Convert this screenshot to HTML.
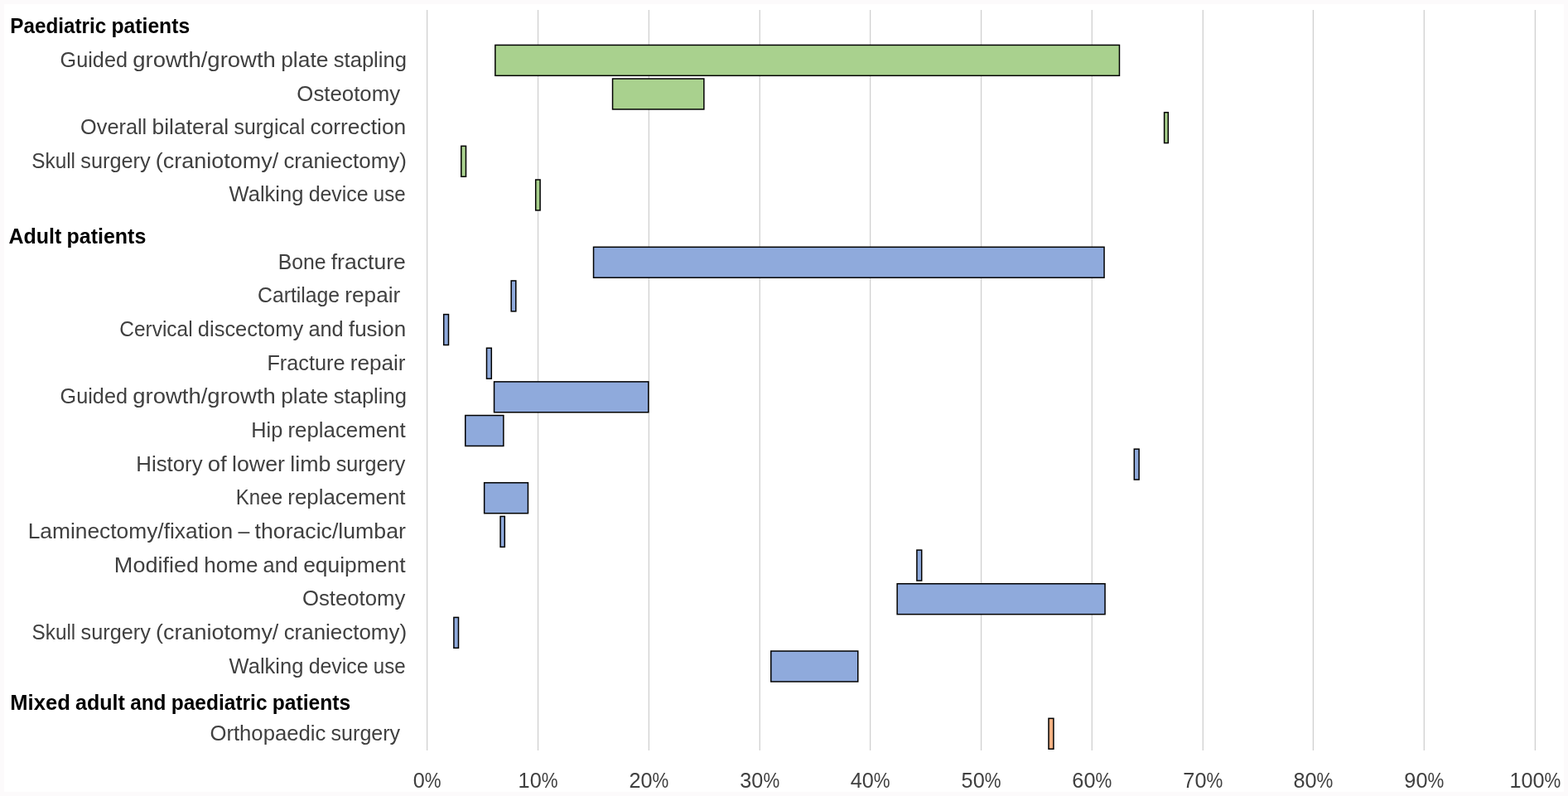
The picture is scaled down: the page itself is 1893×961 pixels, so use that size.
<!DOCTYPE html><html><head><meta charset="utf-8"><title>Chart</title><style>html,body{margin:0;padding:0;background:#fff;}svg{display:block;}</style></head><body>
<svg width="1893" height="961" viewBox="0 0 1893 961">
<rect x="0" y="0" width="1893" height="961" fill="#fcfafb"/>
<rect x="4.9" y="4.9" width="1882.9" height="950.8" fill="#ffffff"/>
<g stroke="#d0d0d0" stroke-width="1.3">
<line x1="515.60" y1="11.9" x2="515.60" y2="906.1"/>
<line x1="649.55" y1="11.9" x2="649.55" y2="906.1"/>
<line x1="783.40" y1="11.9" x2="783.40" y2="906.1"/>
<line x1="917.25" y1="11.9" x2="917.25" y2="906.1"/>
<line x1="1050.60" y1="11.9" x2="1050.60" y2="906.1"/>
<line x1="1184.55" y1="11.9" x2="1184.55" y2="906.1"/>
<line x1="1318.30" y1="11.9" x2="1318.30" y2="906.1"/>
<line x1="1452.30" y1="11.9" x2="1452.30" y2="906.1"/>
<line x1="1585.40" y1="11.9" x2="1585.40" y2="906.1"/>
<line x1="1719.30" y1="11.9" x2="1719.30" y2="906.1"/>
<line x1="1853.40" y1="11.9" x2="1853.40" y2="906.1"/>
</g>
<g stroke="#000" stroke-width="1.5">
<rect x="597.85" y="54.42" width="753.60" height="36.90" fill="#a9d18e"/>
<rect x="739.55" y="95.06" width="110.30" height="36.90" fill="#a9d18e"/>
<rect x="1405.60" y="135.71" width="4.70" height="36.90" fill="#a9d18e"/>
<rect x="556.80" y="176.35" width="5.70" height="36.90" fill="#a9d18e"/>
<rect x="646.70" y="217.00" width="5.40" height="36.90" fill="#a9d18e"/>
<rect x="716.55" y="298.29" width="616.50" height="36.90" fill="#8faadc"/>
<rect x="617.20" y="338.94" width="5.60" height="36.90" fill="#8faadc"/>
<rect x="535.70" y="379.58" width="5.80" height="36.90" fill="#8faadc"/>
<rect x="587.50" y="420.23" width="5.80" height="36.90" fill="#8faadc"/>
<rect x="596.55" y="460.87" width="186.30" height="36.90" fill="#8faadc"/>
<rect x="561.75" y="501.52" width="46.10" height="36.90" fill="#8faadc"/>
<rect x="1369.30" y="542.16" width="5.80" height="36.90" fill="#8faadc"/>
<rect x="584.65" y="582.81" width="52.80" height="36.90" fill="#8faadc"/>
<rect x="604.10" y="623.45" width="5.20" height="36.90" fill="#8faadc"/>
<rect x="1106.90" y="664.10" width="5.80" height="36.90" fill="#8faadc"/>
<rect x="1083.15" y="704.75" width="250.90" height="36.90" fill="#8faadc"/>
<rect x="547.90" y="745.39" width="5.60" height="36.90" fill="#8faadc"/>
<rect x="930.75" y="786.04" width="105.00" height="36.90" fill="#8faadc"/>
<rect x="1266.00" y="867.33" width="5.90" height="36.90" fill="#f4b183"/>
</g>
<g font-family="'Liberation Sans', Arial, sans-serif" font-size="25.0" fill="#404040">
<text y="39.50" font-weight="bold" fill="#000000"><tspan x="12.28" textLength="115.91" lengthAdjust="spacingAndGlyphs">Paediatric</tspan> <tspan x="134.47" textLength="94.70" lengthAdjust="spacingAndGlyphs">patients</tspan></text>
<text y="80.90"><tspan x="72.61" textLength="81.33" lengthAdjust="spacingAndGlyphs">Guided</tspan> <tspan x="160.21" textLength="172.69" lengthAdjust="spacingAndGlyphs">growth/growth</tspan> <tspan x="339.17" textLength="57.28" lengthAdjust="spacingAndGlyphs">plate</tspan> <tspan x="402.71" textLength="88.30" lengthAdjust="spacingAndGlyphs">stapling</tspan></text>
<text y="121.55"><tspan x="358.37" textLength="124.68" lengthAdjust="spacingAndGlyphs">Osteotomy</tspan></text>
<text y="162.19"><tspan x="97.07" textLength="80.18" lengthAdjust="spacingAndGlyphs">Overall</tspan> <tspan x="183.50" textLength="92.77" lengthAdjust="spacingAndGlyphs">bilateral</tspan> <tspan x="282.53" textLength="85.68" lengthAdjust="spacingAndGlyphs">surgical</tspan> <tspan x="374.46" textLength="115.79" lengthAdjust="spacingAndGlyphs">correction</tspan></text>
<text y="202.84"><tspan x="38.24" textLength="52.75" lengthAdjust="spacingAndGlyphs">Skull</tspan> <tspan x="97.27" textLength="84.32" lengthAdjust="spacingAndGlyphs">surgery</tspan> <tspan x="187.87" textLength="148.27" lengthAdjust="spacingAndGlyphs">(craniotomy/</tspan> <tspan x="342.42" textLength="148.45" lengthAdjust="spacingAndGlyphs">craniectomy)</tspan></text>
<text y="243.48"><tspan x="276.56" textLength="89.92" lengthAdjust="spacingAndGlyphs">Walking</tspan> <tspan x="372.68" textLength="71.98" lengthAdjust="spacingAndGlyphs">device</tspan> <tspan x="450.87" textLength="38.78" lengthAdjust="spacingAndGlyphs">use</tspan></text>
<text y="293.50" font-weight="bold" fill="#000000"><tspan x="10.47" textLength="63.75" lengthAdjust="spacingAndGlyphs">Adult</tspan> <tspan x="80.57" textLength="95.75" lengthAdjust="spacingAndGlyphs">patients</tspan></text>
<text y="324.77"><tspan x="335.64" textLength="57.85" lengthAdjust="spacingAndGlyphs">Bone</tspan> <tspan x="399.73" textLength="90.11" lengthAdjust="spacingAndGlyphs">fracture</tspan></text>
<text y="365.42"><tspan x="311.00" textLength="99.15" lengthAdjust="spacingAndGlyphs">Cartilage</tspan> <tspan x="416.37" textLength="66.85" lengthAdjust="spacingAndGlyphs">repair</tspan></text>
<text y="406.06"><tspan x="144.32" textLength="88.27" lengthAdjust="spacingAndGlyphs">Cervical</tspan> <tspan x="238.85" textLength="127.30" lengthAdjust="spacingAndGlyphs">discectomy</tspan> <tspan x="372.40" textLength="42.31" lengthAdjust="spacingAndGlyphs">and</tspan> <tspan x="420.96" textLength="69.25" lengthAdjust="spacingAndGlyphs">fusion</tspan></text>
<text y="446.71"><tspan x="322.44" textLength="94.07" lengthAdjust="spacingAndGlyphs">Fracture</tspan> <tspan x="422.73" textLength="66.87" lengthAdjust="spacingAndGlyphs">repair</tspan></text>
<text y="487.35"><tspan x="72.61" textLength="81.33" lengthAdjust="spacingAndGlyphs">Guided</tspan> <tspan x="160.21" textLength="172.69" lengthAdjust="spacingAndGlyphs">growth/growth</tspan> <tspan x="339.17" textLength="57.28" lengthAdjust="spacingAndGlyphs">plate</tspan> <tspan x="402.71" textLength="88.30" lengthAdjust="spacingAndGlyphs">stapling</tspan></text>
<text y="528.00"><tspan x="303.30" textLength="37.97" lengthAdjust="spacingAndGlyphs">Hip</tspan> <tspan x="347.49" textLength="142.10" lengthAdjust="spacingAndGlyphs">replacement</tspan></text>
<text y="568.65"><tspan x="164.34" textLength="80.23" lengthAdjust="spacingAndGlyphs">History</tspan> <tspan x="250.81" textLength="22.98" lengthAdjust="spacingAndGlyphs">of</tspan> <tspan x="280.03" textLength="63.97" lengthAdjust="spacingAndGlyphs">lower</tspan> <tspan x="350.24" textLength="49.21" lengthAdjust="spacingAndGlyphs">limb</tspan> <tspan x="405.69" textLength="83.75" lengthAdjust="spacingAndGlyphs">surgery</tspan></text>
<text y="609.29"><tspan x="284.80" textLength="56.27" lengthAdjust="spacingAndGlyphs">Knee</tspan> <tspan x="347.31" textLength="142.26" lengthAdjust="spacingAndGlyphs">replacement</tspan></text>
<text y="649.94"><tspan x="33.65" textLength="247.55" lengthAdjust="spacingAndGlyphs">Laminectomy/fixation</tspan> <tspan x="287.45" textLength="13.85" lengthAdjust="spacingAndGlyphs">–</tspan> <tspan x="307.56" textLength="182.35" lengthAdjust="spacingAndGlyphs">thoracic/lumbar</tspan></text>
<text y="690.58"><tspan x="137.89" textLength="102.22" lengthAdjust="spacingAndGlyphs">Modified</tspan> <tspan x="246.37" textLength="64.99" lengthAdjust="spacingAndGlyphs">home</tspan> <tspan x="317.61" textLength="42.32" lengthAdjust="spacingAndGlyphs">and</tspan> <tspan x="366.18" textLength="123.38" lengthAdjust="spacingAndGlyphs">equipment</tspan></text>
<text y="731.23"><tspan x="364.92" textLength="124.45" lengthAdjust="spacingAndGlyphs">Osteotomy</tspan></text>
<text y="771.87"><tspan x="38.52" textLength="52.74" lengthAdjust="spacingAndGlyphs">Skull</tspan> <tspan x="97.54" textLength="84.30" lengthAdjust="spacingAndGlyphs">surgery</tspan> <tspan x="188.12" textLength="148.25" lengthAdjust="spacingAndGlyphs">(craniotomy/</tspan> <tspan x="342.65" textLength="148.42" lengthAdjust="spacingAndGlyphs">craniectomy)</tspan></text>
<text y="812.52"><tspan x="276.56" textLength="89.92" lengthAdjust="spacingAndGlyphs">Walking</tspan> <tspan x="372.68" textLength="71.98" lengthAdjust="spacingAndGlyphs">device</tspan> <tspan x="450.87" textLength="38.78" lengthAdjust="spacingAndGlyphs">use</tspan></text>
<text y="856.70" font-weight="bold" fill="#000000"><tspan x="12.21" textLength="72.58" lengthAdjust="spacingAndGlyphs">Mixed</tspan> <tspan x="91.06" textLength="59.81" lengthAdjust="spacingAndGlyphs">adult</tspan> <tspan x="157.14" textLength="43.37" lengthAdjust="spacingAndGlyphs">and</tspan> <tspan x="206.78" textLength="115.76" lengthAdjust="spacingAndGlyphs">paediatric</tspan> <tspan x="328.81" textLength="94.50" lengthAdjust="spacingAndGlyphs">patients</tspan></text>
<text y="893.81"><tspan x="253.44" textLength="139.89" lengthAdjust="spacingAndGlyphs">Orthopaedic</tspan> <tspan x="399.57" textLength="83.60" lengthAdjust="spacingAndGlyphs">surgery</tspan></text>
</g>
<g font-family="'Liberation Sans', Arial, sans-serif" font-size="25.6" fill="#404040">
<text y="950.7"><tspan x="498.69" textLength="14.04" lengthAdjust="spacingAndGlyphs">0</tspan><tspan x="512.73" textLength="19.79" lengthAdjust="spacingAndGlyphs">%</tspan></text>
<text y="950.7"><tspan x="625.62" textLength="28.08" lengthAdjust="spacingAndGlyphs">10</tspan><tspan x="653.70" textLength="19.79" lengthAdjust="spacingAndGlyphs">%</tspan></text>
<text y="950.7"><tspan x="759.47" textLength="28.08" lengthAdjust="spacingAndGlyphs">20</tspan><tspan x="787.55" textLength="19.79" lengthAdjust="spacingAndGlyphs">%</tspan></text>
<text y="950.7"><tspan x="893.32" textLength="28.08" lengthAdjust="spacingAndGlyphs">30</tspan><tspan x="921.40" textLength="19.79" lengthAdjust="spacingAndGlyphs">%</tspan></text>
<text y="950.7"><tspan x="1026.67" textLength="28.08" lengthAdjust="spacingAndGlyphs">40</tspan><tspan x="1054.75" textLength="19.79" lengthAdjust="spacingAndGlyphs">%</tspan></text>
<text y="950.7"><tspan x="1160.62" textLength="28.08" lengthAdjust="spacingAndGlyphs">50</tspan><tspan x="1188.70" textLength="19.79" lengthAdjust="spacingAndGlyphs">%</tspan></text>
<text y="950.7"><tspan x="1294.37" textLength="28.08" lengthAdjust="spacingAndGlyphs">60</tspan><tspan x="1322.45" textLength="19.79" lengthAdjust="spacingAndGlyphs">%</tspan></text>
<text y="950.7"><tspan x="1428.37" textLength="28.08" lengthAdjust="spacingAndGlyphs">70</tspan><tspan x="1456.45" textLength="19.79" lengthAdjust="spacingAndGlyphs">%</tspan></text>
<text y="950.7"><tspan x="1561.47" textLength="28.08" lengthAdjust="spacingAndGlyphs">80</tspan><tspan x="1589.55" textLength="19.79" lengthAdjust="spacingAndGlyphs">%</tspan></text>
<text y="950.7"><tspan x="1695.37" textLength="28.08" lengthAdjust="spacingAndGlyphs">90</tspan><tspan x="1723.45" textLength="19.79" lengthAdjust="spacingAndGlyphs">%</tspan></text>
<text y="950.7"><tspan x="1822.45" textLength="42.12" lengthAdjust="spacingAndGlyphs">100</tspan><tspan x="1864.57" textLength="19.79" lengthAdjust="spacingAndGlyphs">%</tspan></text>
</g>
</svg></body></html>
